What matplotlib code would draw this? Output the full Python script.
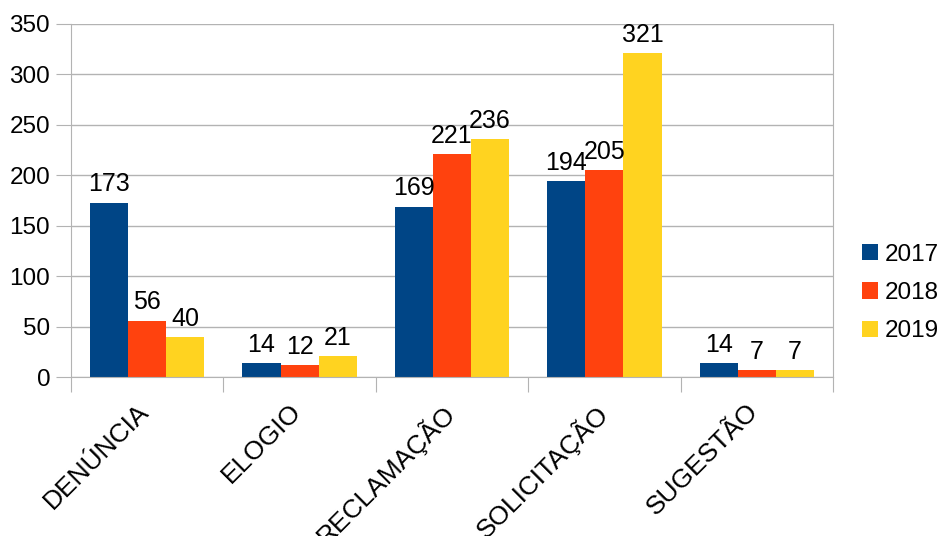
import matplotlib.pyplot as plt
import numpy as np

plt.rcParams['font.family'] = ['Liberation Sans', 'DejaVu Sans']

categorias = ['DENÚNCIA', 'ELOGIO', 'RECLAMAÇÃO', 'SOLICITAÇÃO', 'SUGESTÃO']
anos = ['2017', '2018', '2019']
v2017 = [173, 14, 169, 194, 14]
v2018 = [56, 12, 221, 205, 7]
v2019 = [40, 21, 236, 321, 7]
cores = ['#004586', '#ff420e', '#ffd320']

fig = plt.figure(figsize=(9.45, 5.36), dpi=100)
ax = fig.add_axes([71/945, 1 - 377/536, (833 - 71)/945, (377 - 24)/536])

x = np.arange(len(categorias))
w = 0.25
handles = []
for i, (vals, ano) in enumerate(zip([v2017, v2018, v2019], anos)):
    pos = x + (i - 1) * w
    b = ax.bar(pos, vals, w, color=cores[i], label=ano, zorder=3)
    handles.append(b)
    for p, v in zip(pos, vals):
        ax.text(p, v + 6, str(v), ha='center', va='bottom', fontsize=18, zorder=4)

ax.set_xlim(-0.5, len(categorias) - 0.5)
ax.set_ylim(0, 350)
ax.set_yticks(range(0, 351, 50))
ax.tick_params(axis='y', labelsize=17.5, length=11, color='#b3b3b3', pad=4)
ax.grid(axis='y', color='#b3b3b3', linewidth=1, zorder=0)

# ticks at group boundaries, labels at group centres
ax.set_xticks(np.arange(-0.5, len(categorias)))
ax.set_xticklabels([])
ax.tick_params(axis='x', length=11, color='#b3b3b3')
for xi, lab in zip(x, categorias):
    ax.text(xi - 0.07, -22, lab, rotation=45, ha='right', va='top',
            rotation_mode='anchor', fontsize=19)

ax.spines['top'].set_visible(False)
ax.spines['left'].set_color('#b3b3b3')
ax.spines['right'].set_color('#b3b3b3')
ax.spines['bottom'].set_color('#b3b3b3')
ax.spines['bottom'].set_zorder(5)

fig.legend(handles=handles, labels=anos, loc='center left',
           bbox_to_anchor=(852/945, 1 - 293/536), frameon=False,
           fontsize=17.5, handlelength=0.65, handleheight=0.65,
           handletextpad=0.3, labelspacing=0.67, borderaxespad=0)

fig.savefig('out.png', dpi=100)
